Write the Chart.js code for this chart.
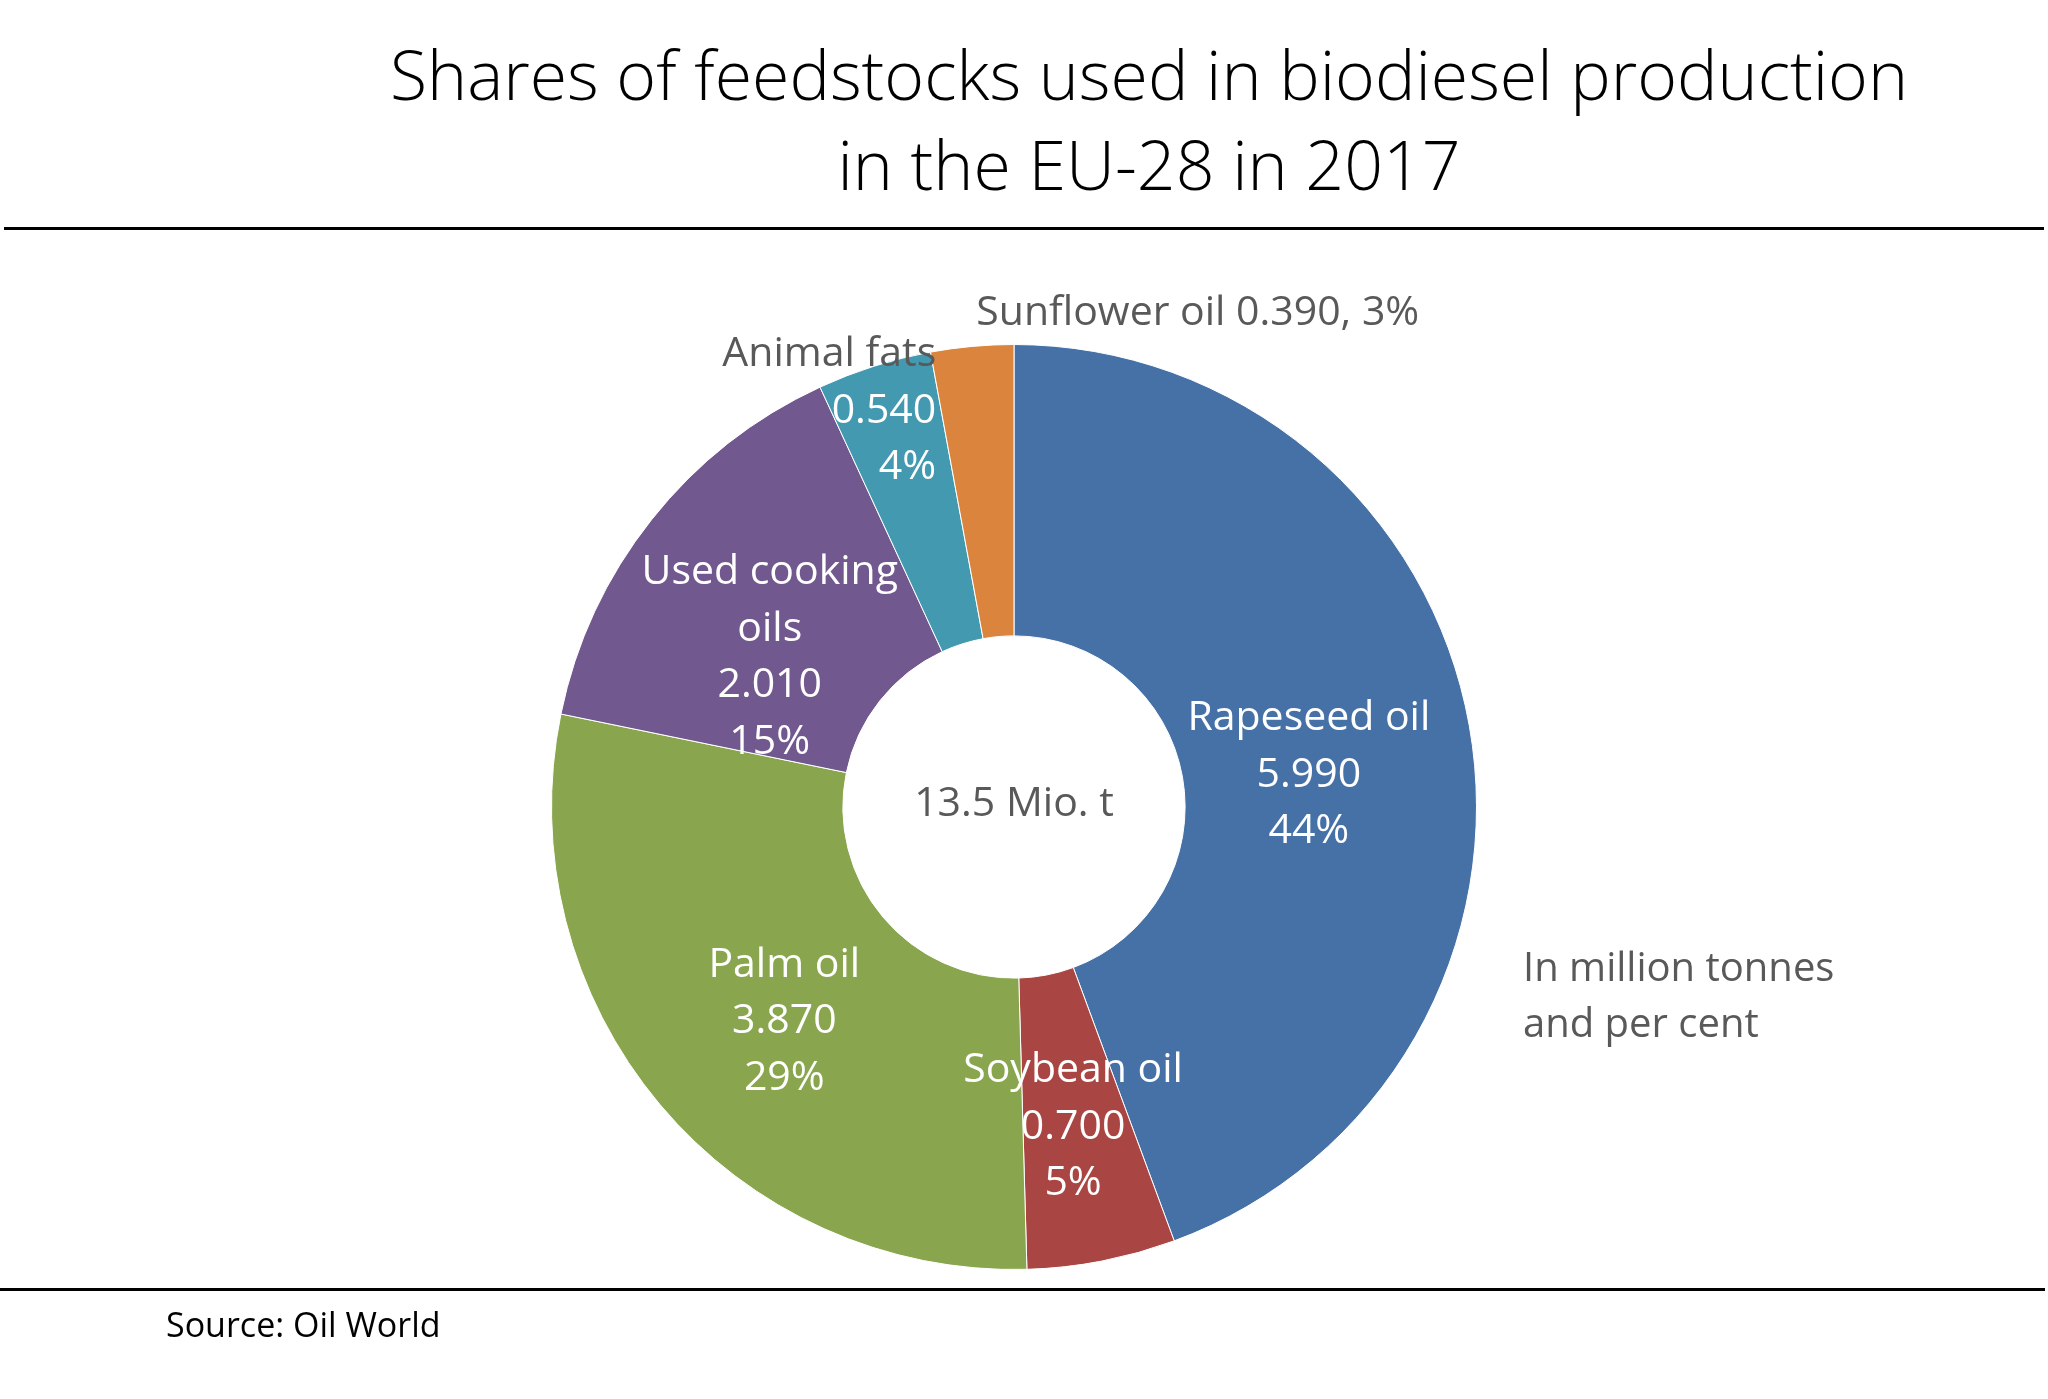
<!DOCTYPE html>
<html>
<head>
<meta charset="utf-8">
<title>Shares of feedstocks used in biodiesel production in the EU-28 in 2017</title>
<script src="https://cdn.jsdelivr.net/npm/chart.js@4.4.1/dist/chart.umd.min.js"></script>
<style>
  html, body { margin: 0; padding: 0; background: #fff; }
  #page { position: relative; width: 2048px; height: 1399px; overflow: hidden; font-family: "Open Sans", sans-serif; }
  #title { position: absolute; left: 249px; top: 29px; width: 1800px; text-align: center;
           font-size: 68px; font-weight: 300; line-height: 90px; color: #000; }
  .rule { position: absolute; height: 3px; background: #000; }
  #chartBox { position: absolute; left: 0; top: 0; width: 2048px; height: 1399px; }
  #note { position: absolute; left: 1523px; top: 938px; font-size: 40px; line-height: 56px; color: #595959; }
  #source { position: absolute; left: 166px; top: 1301px; font-size: 34px; line-height: 46px; color: #000; }
</style>
</head>
<body>
<div id="page">
  <div id="title">Shares of feedstocks used in biodiesel production<br>in the EU-28 in 2017</div>
  <div class="rule" style="left:4px; top:227px; width:2040px;"></div>
  <div id="chartBox"><canvas id="feedstockChart"></canvas></div>
  <div id="note">In million tonnes<br>and per cent</div>
  <div class="rule" style="left:0; top:1288px; width:2045px;"></div>
  <div id="source">Source: Oil World</div>
</div>

<script>
// Feedstocks, clockwise from 12 o'clock
const categories = ["Rapeseed oil", "Soybean oil", "Palm oil", "Used cooking oils", "Animal fats", "Sunflower oil"];
const nameLines = [["Rapeseed oil"], ["Soybean oil"], ["Palm oil"], ["Used cooking", "oils"], ["Animal fats"], ["Sunflower oil"]];
const volumes = [5.990, 0.700, 3.870, 2.010, 0.540, 0.390];   // million tonnes
const shares = [44, 5, 29, 15, 4, 3];                          // per cent
const totalLabel = "13.5 Mio. t";
const colors = ["#4571A7", "#A94542", "#89A54E", "#71588F", "#4399B0", "#DB843D"];

const grey = "#595959";
const labelFont = '41px "Open Sans"';
const lineHeight = 56.5;
const capHalf = 14.6;

// where each label sits relative to its slice's centre point
const labelPlacement = [
  { dx: -17, dy: 21, align: "center" },
  { dx: -1, dy: 6, align: "center" },
  { dx: 13, dy: 8, align: "center" },
  { dx: 4, dy: 44, align: "center" },
  { dx: 18, dy: -97, align: "right", greyName: true },
  { dx: -9, dy: -181, align: "left", oneLine: true }
];

const sliceLabels = {
  id: "sliceLabels",
  afterDatasetsDraw(chart) {
    const ctx = chart.ctx;
    const arcs = chart.getDatasetMeta(0).data;
    ctx.save();
    ctx.font = labelFont;
    ctx.textBaseline = "alphabetic";

    arcs.forEach((arc, i) => {
      const p = arc.getCenterPoint();
      const place = labelPlacement[i];
      const value = volumes[i].toFixed(3);
      const pct = shares[i] + "%";
      let lines;
      if (place.oneLine) {
        lines = [{ text: nameLines[i].join(" ") + " " + value + ", " + pct, color: grey }];
      } else {
        lines = nameLines[i].map(t => ({ text: t, color: place.greyName ? grey : "#fff" }));
        lines.push({ text: value, color: "#fff" }, { text: pct, color: "#fff" });
      }
      const x = p.x + place.dx;
      const y = p.y + place.dy;
      ctx.textAlign = place.align;
      lines.forEach((ln, k) => {
        ctx.fillStyle = ln.color;
        ctx.fillText(ln.text, x, y + (k - (lines.length - 1) / 2) * lineHeight + capHalf);
      });
    });

    // total in the hole
    const c = arcs[0];
    ctx.textAlign = "center";
    ctx.fillStyle = grey;
    ctx.fillText(totalLabel, c.x, c.y - 6 + capHalf);
    ctx.restore();
  }
};

const ctx = document.getElementById("feedstockChart").getContext("2d");

new Chart(ctx, {
  type: "doughnut",
  data: {
    labels: categories,
    datasets: [{
      data: volumes,
      backgroundColor: colors,
      borderColor: "#ffffff",
      borderWidth: 1
    }]
  },
  options: {
    responsive: true,
    maintainAspectRatio: false,
    animation: false,
    events: [],
    cutout: "37%",
    layout: { padding: { left: 551, top: 344, right: 571, bottom: 129 } },
    plugins: {
      legend: { display: false },
      tooltip: { enabled: false },
      title: { display: false }
    }
  },
  plugins: [sliceLabels]
});
</script>
</body>
</html>
